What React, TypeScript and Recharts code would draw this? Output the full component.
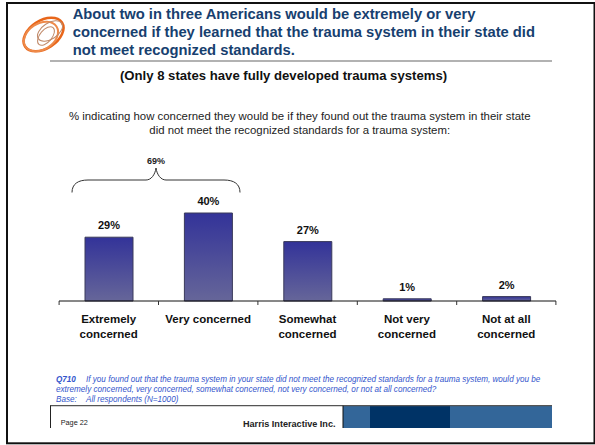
import { BarChart, Bar, XAxis, YAxis, LabelList } from 'recharts';

const categories = [
  ['Extremely', 'concerned'],
  ['Very concerned'],
  ['Somewhat', 'concerned'],
  ['Not very', 'concerned'],
  ['Not at all', 'concerned'],
];
const percents = [29, 40, 27, 1, 2];
const titleLines = [
  'About two in three Americans would be extremely or very',
  'concerned if they learned that the trauma system in their state did',
  'not meet recognized standards.',
];
const subtitle = '(Only 8 states have fully developed trauma systems)';
const questionLines = [
  '% indicating how concerned they would be if they found out the trauma system in their state',
  'did not meet the recognized standards for a trauma system:',
];
const footnoteLines = [
  'If you found out that the trauma system in your state did not meet the recognized standards for a trauma system, would you be',
  'extremely concerned, very concerned, somewhat concerned, not very concerned, or not at all concerned?',
];

const data = categories.map((lines, i) => ({ name: lines.join(' '), value: percents[i] }));
const FONT = '"Liberation Sans", Arial, sans-serif';
const NOTE_BLUE = '#3355cc';

// category label plus the tick marks, which sit on the band edges and not the centres
const CategoryTick = ({ x, index, payload }: any) => {
  const band = 99.2;
  const lines = categories[index] ?? [payload.value];
  return (
    <g>
      <line x1={x - band / 2} x2={x - band / 2} y1={301} y2={305} stroke="#333" />
      {index === categories.length - 1 && (
        <line x1={x + band / 2} x2={x + band / 2} y1={301} y2={305} stroke="#333" />
      )}
      {lines.map((l: string, i: number) => (
        <text key={i} x={x} y={323 + i * 15} textAnchor="middle" fontSize={11.5} fontWeight="bold" fill="#111" fontFamily={FONT}>
          {l}
        </text>
      ))}
    </g>
  );
};

export default function App() {
  return (
    <div style={{ position: 'absolute', left: 0, top: 0, width: 595, height: 445, background: '#fff', fontFamily: FONT }}>
      <BarChart
        width={595}
        height={445}
        data={data}
        barSize={48}
        margin={{ top: 81, right: 39, bottom: 0, left: 59 }}
      >
        <defs>
          <linearGradient id="barFill" x1="0" y1="0" x2="0" y2="1">
            <stop offset="0%" stopColor="#333399" />
            <stop offset="100%" stopColor="#666699" />
          </linearGradient>
        </defs>
        <XAxis
          dataKey="name"
          interval={0}
          height={144}
          tickLine={false}
          axisLine={{ stroke: '#111', strokeWidth: 1 }}
          tick={<CategoryTick />}
        />
        <YAxis hide domain={[0, 100]} />
        <Bar dataKey="value" fill="url(#barFill)" stroke="#3a3a5a" strokeWidth={1} isAnimationActive={false}>
          <LabelList
            dataKey="value"
            position="top"
            offset={8}
            formatter={(v: any) => `${v}%`}
            style={{ fontSize: 11, fontWeight: 'bold', fill: '#111', fontFamily: FONT }}
          />
        </Bar>
      </BarChart>

      <svg width={595} height={445} style={{ position: 'absolute', left: 0, top: 0 }}>
        {/* slide frame */}
        <rect x={7} y={3} width={587.5} height={440.3} fill="none" stroke="#111" strokeWidth={2} />

        {/* logo */}
        <g fill="none">
          <ellipse cx={43.5} cy={34.5} rx={22} ry={14} transform="rotate(-33 43.5 34.5)" strokeWidth={2.6} stroke="#e8661a" />
          <ellipse cx={41} cy={36.5} rx={18.5} ry={13} transform="rotate(-33 41 36.5)" strokeWidth={2} stroke="#ee8a4a" />
          <ellipse cx={50} cy={31} rx={14} ry={8} transform="rotate(-33 50 31)" strokeWidth={1} stroke="#c08a6a" />
          <ellipse cx={46} cy={36} rx={6} ry={11} transform="rotate(40 46 36)" strokeWidth={1} stroke="#c08a6a" />
        </g>

        {titleLines.map((l, i) => (
          <text key={i} x={72.7} y={19 + i * 18} fontSize={14.75} fontWeight="bold" fill="#17406f" fontFamily={FONT}>{l}</text>
        ))}
        <line x1={50} x2={552} y1={61} y2={61} stroke="#666" strokeWidth={1.2} />
        <text x={283.5} y={80} textAnchor="middle" fontSize={13.15} fontWeight="bold" fill="#111" fontFamily={FONT}>{subtitle}</text>
        {questionLines.map((l, i) => (
          <text key={i} x={299.7} y={120 + i * 14} textAnchor="middle" fontSize={11.4} fill="#222" fontFamily={FONT}>{l}</text>
        ))}

        {/* 69% brace */}
        <text x={156} y={164} textAnchor="middle" fontSize={9} fontWeight="bold" fill="#222" fontFamily={FONT}>69%</text>
        <path
          d="M72 192.5 C72 184 78 180 88 180 L146 180 C151 180 155 175 156 168 C157 175 161 180 166 180 L224 180 C234 180 240 184 240 192.5"
          fill="none"
          stroke="#333"
        />

        {/* footnote */}
        <text x={56} y={381.7} fontSize={8.15} fontWeight="bold" fontStyle="italic" fill={NOTE_BLUE} fontFamily={FONT}>Q710</text>
        <text x={86} y={381.7} fontSize={8.15} fontStyle="italic" fill={NOTE_BLUE} fontFamily={FONT}>{footnoteLines[0]}</text>
        <text x={56} y={391.7} fontSize={8.15} fontStyle="italic" fill={NOTE_BLUE} fontFamily={FONT}>{footnoteLines[1]}</text>
        <text x={56} y={401.7} fontSize={8.15} fontStyle="italic" fill={NOTE_BLUE} fontFamily={FONT}>Base:</text>
        <text x={86} y={401.7} fontSize={8.15} fontStyle="italic" fill={NOTE_BLUE} fontFamily={FONT}>All respondents (N=1000)</text>

        {/* footer */}
        <rect x={343} y={406} width={27} height={22} fill="#336699" />
        <rect x={370} y={406} width={80} height={22} fill="#003366" />
        <rect x={450} y={406} width={102} height={22} fill="#336699" />
        <line x1={50} x2={552} y1={405.7} y2={405.7} stroke="#555" strokeWidth={1.2} />
        <line x1={50.5} x2={50.5} y1={405.7} y2={428} stroke="#222" />
        <line x1={343} x2={343} y1={405.7} y2={428} stroke="#111" />
        <text x={60.7} y={425} fontSize={7.3} fill="#222" fontFamily={FONT}>Page 22</text>
        <text x={335.5} y={426.7} textAnchor="end" fontSize={9.1} fontWeight="bold" fill="#222" fontFamily={FONT}>Harris Interactive Inc.</text>
      </svg>
    </div>
  );
}
